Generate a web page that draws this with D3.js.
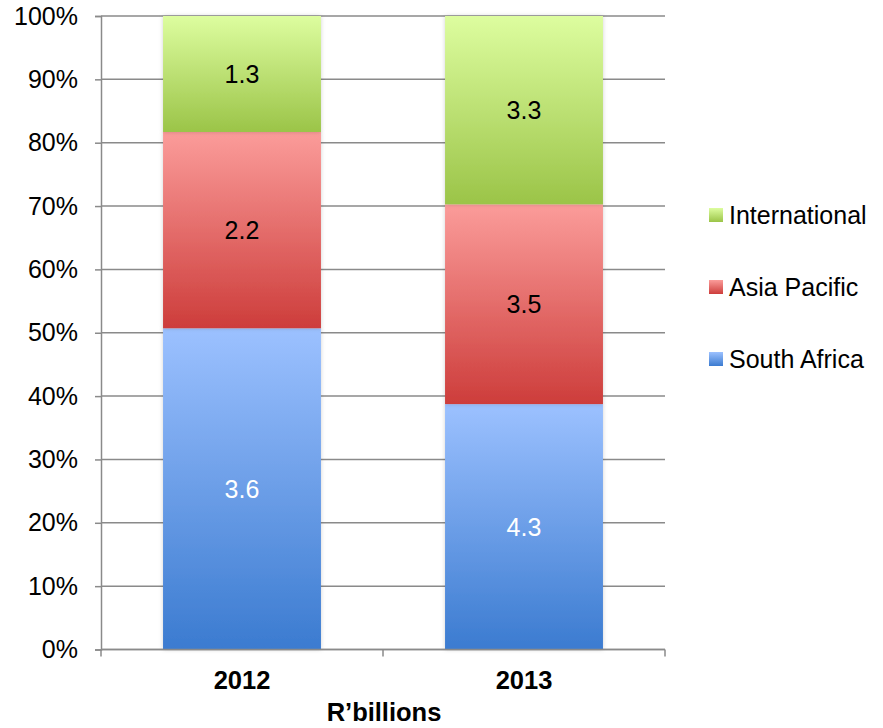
<!DOCTYPE html>
<html>
<head>
<meta charset="utf-8">
<script src="https://cdn.jsdelivr.net/npm/d3@7"></script>
<style>
  body { margin: 0; background: #fff; }
  svg text { font-family: "Liberation Sans", Arial, sans-serif; }
</style>
</head>
<body>
<svg id="chart" width="883" height="728"></svg>
<script>
// Revenue by region, R'billions, shown as shares of each year's total
const years = ["2012", "2013"];
const regions = ["South Africa", "Asia Pacific", "International"];
const southAfrica = [3.6, 4.3];
const asiaPacific = [2.2, 3.5];
const international = [1.3, 3.3];
const yTicks = [0, 0.1, 0.2, 0.3, 0.4, 0.5, 0.6, 0.7, 0.8, 0.9, 1.0];

const seriesValues = [southAfrica, asiaPacific, international];
const gradients = [
  { id: "gSA", top: "#9cc1ff", bottom: "#3b7bd0" },
  { id: "gAP", top: "#fb9c9a", bottom: "#cd3d3b" },
  { id: "gINT", top: "#ddfd9f", bottom: "#9bc448" }
];
const labelColors = ["#ffffff", "#000000", "#000000"];
const FS = 25;

const svg = d3.select("#chart");
const margin = { left: 101, right: 218, top: 16, bottom: 78.5 };
const W = 883, H = 728;

const x = d3.scaleBand().domain(years)
  .range([margin.left, W - margin.right]).paddingInner(0.44).paddingOuter(0.22);
const y = d3.scaleLinear().domain([0, 1]).range([H - margin.bottom, margin.top]);

const defs = svg.append("defs");
gradients.forEach(g => {
  const lg = defs.append("linearGradient").attr("id", g.id)
    .attr("x1", 0).attr("y1", 0).attr("x2", 0).attr("y2", 1);
  lg.append("stop").attr("offset", "0%").attr("stop-color", g.top);
  lg.append("stop").attr("offset", "100%").attr("stop-color", g.bottom);
});
const f = defs.append("filter").attr("id", "shadow")
  .attr("x", "-10%").attr("y", "-5%").attr("width", "120%").attr("height", "110%");
f.append("feDropShadow").attr("dx", 0).attr("dy", 0).attr("stdDeviation", 2)
  .attr("flood-color", "#000").attr("flood-opacity", 0.18);

// gridlines
svg.append("g").selectAll("line").data(yTicks).join("line")
  .attr("x1", margin.left).attr("x2", W - margin.right)
  .attr("y1", d => y(d)).attr("y2", d => y(d))
  .attr("stroke", "#8a8a8a").attr("stroke-width", 1.5);

// stacked shares
const table = years.map((yr, i) => {
  const row = { year: yr };
  regions.forEach((r, k) => row[r] = seriesValues[k][i]);
  return row;
});
const stack = d3.stack().keys(regions).offset(d3.stackOffsetExpand);
const layers = stack(table);

const barG = svg.append("g");
layers.forEach((layer, k) => {
  layer.forEach((seg, i) => {
    barG.append("rect")
      .attr("x", x(years[i])).attr("width", x.bandwidth())
      .attr("y", y(seg[1])).attr("height", y(seg[0]) - y(seg[1]))
      .attr("fill", `url(#${gradients[k].id})`)
      .attr("filter", "url(#shadow)");
  });
});
layers.forEach((layer, k) => {
  layer.forEach((seg, i) => {
    barG.append("text")
      .attr("x", x(years[i]) + x.bandwidth() / 2)
      .attr("y", (y(seg[0]) + y(seg[1])) / 2)
      .attr("dy", "0.35em").attr("text-anchor", "middle")
      .attr("font-size", FS).attr("fill", labelColors[k])
      .text(d3.format(".1f")(seriesValues[k][i]));
  });
});

// y axis
const yAxis = svg.append("g").attr("transform", `translate(${margin.left},0)`)
  .call(d3.axisLeft(y).tickValues(yTicks).tickFormat(d3.format(".0%")).tickSize(6).tickPadding(17));
yAxis.select(".domain").attr("stroke", "#8a8a8a").attr("stroke-width", 1.5);
yAxis.selectAll(".tick line").attr("stroke", "#8a8a8a").attr("stroke-width", 1.5);
yAxis.selectAll(".tick text").attr("font-size", FS).attr("fill", "#000")
  .attr("font-family", "Liberation Sans, Arial, sans-serif");

// x axis
const xBottom = y(0);
const xg = svg.append("g");
xg.append("line").attr("x1", margin.left).attr("x2", W - margin.right)
  .attr("y1", xBottom).attr("y2", xBottom).attr("stroke", "#8a8a8a").attr("stroke-width", 1.5);
const bounds = [margin.left, (x(years[0]) + x.bandwidth() + x(years[1])) / 2, W - margin.right];
xg.selectAll("line.tk").data(bounds).join("line").attr("class", "tk")
  .attr("x1", d => d).attr("x2", d => d)
  .attr("y1", xBottom).attr("y2", xBottom + 7)
  .attr("stroke", "#8a8a8a").attr("stroke-width", 1.5);
xg.selectAll("text").data(years).join("text")
  .attr("x", d => x(d) + x.bandwidth() / 2).attr("y", 689)
  .attr("text-anchor", "middle").attr("font-size", 25.5).attr("font-weight", "bold")
  .text(d => d);

svg.append("text").attr("x", (margin.left + W - margin.right) / 2 + 1).attr("y", 721)
  .attr("text-anchor", "middle").attr("font-size", 25.5).attr("font-weight", "bold")
  .text("R\u2019billions");

// legend (top to bottom: International, Asia Pacific, South Africa)
const legendOrder = [2, 1, 0];
const lg = svg.append("g");
legendOrder.forEach((k, j) => {
  const cy = 215 + j * 72;
  lg.append("rect").attr("x", 709).attr("y", cy - 7).attr("width", 14).attr("height", 14)
    .attr("fill", `url(#${gradients[k].id})`);
  lg.append("text").attr("x", 729).attr("y", cy).attr("dy", "0.35em")
    .attr("font-size", FS).text(regions[k]);
});
</script>
</body>
</html>
